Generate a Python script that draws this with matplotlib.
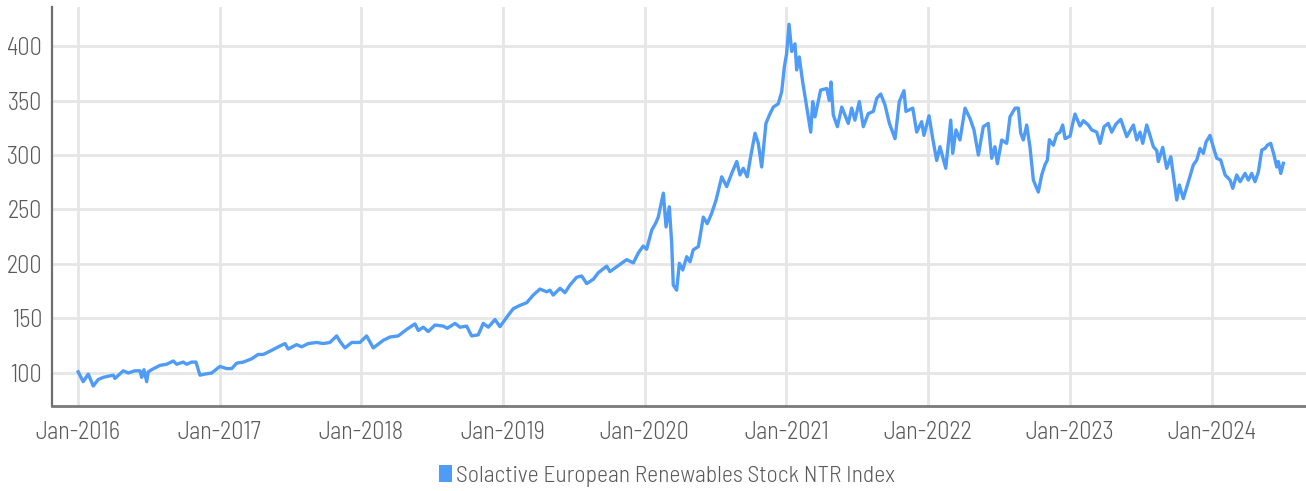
import matplotlib
matplotlib.use("Agg")
import matplotlib.pyplot as plt
from matplotlib.patches import Patch

# index level, x in decimal years
years = [
    2016.002, 2016.037, 2016.073, 2016.108, 2016.143, 2016.179, 2016.249, 2016.261, 2016.320, 2016.355,
    2016.402, 2016.438, 2016.450, 2016.466, 2016.485, 2016.496, 2016.520, 2016.579, 2016.626, 2016.673,
    2016.697, 2016.743, 2016.767, 2016.802, 2016.833, 2016.861, 2016.896, 2016.944, 2017.002, 2017.049,
    2017.085, 2017.120, 2017.167, 2017.226, 2017.272, 2017.308, 2017.355, 2017.414, 2017.461, 2017.484,
    2017.543, 2017.579, 2017.625, 2017.685, 2017.731, 2017.778, 2017.826, 2017.849, 2017.884, 2017.932,
    2017.990, 2018.037, 2018.084, 2018.155, 2018.202, 2018.260, 2018.320, 2018.378, 2018.402, 2018.437,
    2018.472, 2018.519, 2018.578, 2018.606, 2018.661, 2018.696, 2018.743, 2018.778, 2018.825, 2018.860,
    2018.896, 2018.943, 2018.978, 2019.025, 2019.072, 2019.119, 2019.167, 2019.213, 2019.260, 2019.308,
    2019.331, 2019.354, 2019.402, 2019.437, 2019.472, 2019.519, 2019.555, 2019.590, 2019.637, 2019.672,
    2019.731, 2019.754, 2019.802, 2019.872, 2019.919, 2019.954, 2019.989, 2020.013, 2020.049, 2020.079,
    2020.095, 2020.131, 2020.150, 2020.173, 2020.190, 2020.201, 2020.225, 2020.244, 2020.268, 2020.296,
    2020.319, 2020.342, 2020.378, 2020.413, 2020.441, 2020.472, 2020.503, 2020.543, 2020.578, 2020.613,
    2020.649, 2020.672, 2020.695, 2020.723, 2020.747, 2020.778, 2020.801, 2020.825, 2020.855, 2020.884,
    2020.907, 2020.942, 2020.966, 2020.985, 2021.001, 2021.018, 2021.037, 2021.060, 2021.072, 2021.090,
    2021.112, 2021.143, 2021.171, 2021.185, 2021.201, 2021.241, 2021.284, 2021.302, 2021.314, 2021.330,
    2021.359, 2021.390, 2021.436, 2021.460, 2021.483, 2021.514, 2021.542, 2021.577, 2021.613, 2021.637,
    2021.665, 2021.695, 2021.726, 2021.766, 2021.796, 2021.829, 2021.843, 2021.891, 2021.919, 2021.954,
    2021.970, 2022.006, 2022.032, 2022.060, 2022.083, 2022.124, 2022.159, 2022.173, 2022.196, 2022.224,
    2022.260, 2022.295, 2022.323, 2022.354, 2022.389, 2022.424, 2022.448, 2022.471, 2022.488, 2022.519,
    2022.554, 2022.577, 2022.613, 2022.636, 2022.653, 2022.671, 2022.695, 2022.718, 2022.742, 2022.777,
    2022.801, 2022.824, 2022.841, 2022.855, 2022.883, 2022.907, 2022.930, 2022.949, 2022.966, 2023.001,
    2023.020, 2023.036, 2023.071, 2023.095, 2023.130, 2023.154, 2023.189, 2023.213, 2023.241, 2023.271,
    2023.295, 2023.325, 2023.359, 2023.401, 2023.448, 2023.472, 2023.495, 2023.514, 2023.542, 2023.565,
    2023.589, 2023.613, 2023.624, 2023.655, 2023.683, 2023.712, 2023.754, 2023.772, 2023.800, 2023.836,
    2023.871, 2023.895, 2023.918, 2023.942, 2023.961, 2023.989, 2024.008, 2024.036, 2024.064, 2024.095,
    2024.130, 2024.149, 2024.177, 2024.201, 2024.236, 2024.259, 2024.283, 2024.306, 2024.330, 2024.354,
    2024.377, 2024.393, 2024.417, 2024.440, 2024.460, 2024.471, 2024.488, 2024.506,
]
index_values = [
    101, 92, 99, 88, 94, 96, 98, 95, 102, 100,
    102, 102, 96, 103, 92, 101, 103, 107, 108, 111,
    108, 110, 108, 110, 110, 98, 99, 100, 106, 104,
    104, 109, 110, 113, 117, 117, 120, 124, 127, 122,
    126, 124, 127, 128, 127, 128, 134, 129, 123, 128,
    128, 134, 123, 130, 133, 134, 140, 145, 139, 142,
    138, 144, 143, 141, 145.5, 142, 143, 134, 135, 145.5,
    142, 149, 142.5, 151, 159, 162, 164.5, 171.5, 177, 174.5,
    176, 171.5, 177.7, 173.7, 180.7, 187.8, 189, 182, 186, 192,
    198, 193, 197.5, 204, 201, 210, 216.5, 213.5, 231, 238,
    243, 265, 234, 252.5, 219, 180.7, 176, 200.6, 194.5, 206.7,
    202, 213, 216, 243, 237, 246.5, 258.7, 280, 271, 283,
    294, 281.7, 287.8, 280, 298.4, 320, 310.7, 289, 329, 338,
    344, 347, 358, 381, 393, 420, 395, 402, 378, 390,
    369, 344, 321, 349, 335, 359.6, 361, 350, 367, 337,
    326, 344, 329, 343, 332, 349, 326, 338, 340, 352,
    356, 346, 329, 315, 349, 359, 340, 343, 321, 330.6,
    318, 336, 315, 295, 307.6, 287.8, 332, 301.5, 323, 313.8,
    343, 333.5, 323, 300, 326, 329, 297, 307.6, 292, 313.8,
    310.7, 335, 343, 343, 320, 313.8, 327.5, 307.6, 277, 266,
    281.7, 291, 295.4, 314, 309, 319, 321, 327.5, 315, 317.4,
    329, 337.6, 326.6, 331.5, 327.5, 323, 321, 310.7, 326, 329,
    321, 328.4, 332.7, 316.8, 327.5, 313.8, 321, 310.7, 327.5, 318,
    307.6, 304, 294, 307, 287.8, 298.4, 258.7, 272.5, 260, 275.5,
    291, 295.4, 306, 301.5, 312, 318, 309, 297, 295.4, 281.7,
    277, 269.4, 281.7, 275.5, 283.1, 277, 283.1, 275.5, 284.6, 304.6,
    306, 309, 310.7, 300, 289, 294, 283.1, 292.4,
]
series_name = "Solactive European Renewables Stock NTR Index"
year_ticks = [2016, 2017, 2018, 2019, 2020, 2021, 2022, 2023, 2024]
year_labels = ["Jan-2016", "Jan-2017", "Jan-2018", "Jan-2019", "Jan-2020",
               "Jan-2021", "Jan-2022", "Jan-2023", "Jan-2024"]
y_ticks = [100, 150, 200, 250, 300, 350, 400]

plt.rcParams['font.family'] = ['Barlow Semi Condensed', 'Barlow Condensed',
                               'Archivo Narrow', 'Roboto', 'DejaVu Sans']
plt.rcParams['font.weight'] = 300

blue = '#4f9bf8'
txt = '#5a5a5a'

fig = plt.figure(figsize=(13.06, 4.91), dpi=100)
ax = fig.add_axes([52 / 1306, 1 - 406 / 491, 1 - 52 / 1306, 399 / 491])

ax.plot(years, index_values, color=blue, lw=2.4, solid_joinstyle='round')

ax.set_xlim(2015.817, 2024.666)
ax.set_ylim(69.7, 435.8)
ax.set_xticks(year_ticks)
ax.set_xticklabels(year_labels)
ax.set_yticks(y_ticks)
ax.grid(True, color='#e6e6e6', lw=2)
ax.set_axisbelow(True)

ax.tick_params(length=0, labelsize=17.5, colors=txt)
ax.tick_params(axis='x', pad=11)
ax.tick_params(axis='y', pad=7)

for s in ['top', 'right']:
    ax.spines[s].set_visible(False)
ax.spines['left'].set_color('#6e6e6e')
ax.spines['left'].set_linewidth(1.6)
ax.spines['bottom'].set_color('#7a7a7a')
ax.spines['bottom'].set_linewidth(2)

handle = Patch(facecolor=blue, edgecolor='none')
fig.legend([handle], [series_name], loc='center', bbox_to_anchor=(667 / 1306, 1 - 476 / 491),
           frameon=False, fontsize=17, labelcolor=txt, handlelength=0.55, handleheight=0.7,
           handletextpad=0.2)

fig.savefig('out.png', dpi=100, facecolor='white')
